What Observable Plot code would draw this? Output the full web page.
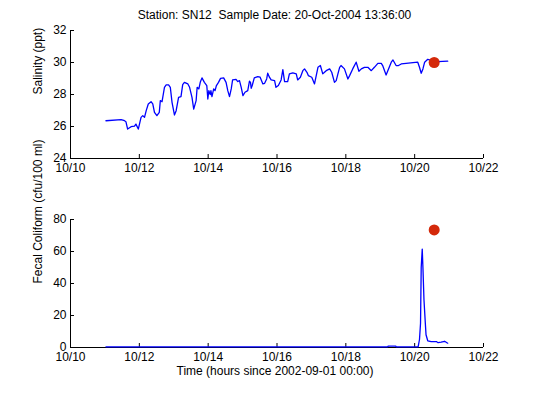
<!DOCTYPE html>
<html><head><meta charset="utf-8">
<script src="https://cdn.jsdelivr.net/npm/d3@7"></script>
<script src="https://cdn.jsdelivr.net/npm/@observablehq/plot@0.6"></script>
<style>
body{margin:0;background:#fff;}
#wrap{position:relative;width:533px;height:399px;font-family:"Liberation Sans",Arial,sans-serif;color:#000;}
#title{position:absolute;top:8px;left:0;width:549px;text-align:center;font-size:12px;white-space:pre;line-height:14px;}
.panel{position:absolute;left:0;}
</style></head><body>
<div id="wrap"><div id="title"></div><div id="top" class="panel" style="top:0px"></div><div id="bot" class="panel" style="top:185px"></div></div>
<script>
const titleText = "Station: SN12  Sample Date: 20-Oct-2004 13:36:00";
const xTicks = [10, 12, 14, 16, 18, 20, 22];
const xTickLabels = ["10/10", "10/12", "10/14", "10/16", "10/18", "10/20", "10/22"];
const salTicks = [24, 26, 28, 30, 32];
const fecTicks = [0, 20, 40, 60, 80];

const salDay = [
 11.03,11.47,11.57,11.61,11.66,11.76,11.86,11.90,11.97,12.05,
 12.10,12.15,12.20,12.26,12.34,12.39,12.44,12.51,12.58,12.61,
 12.66,12.73,12.78,12.85,12.90,12.95,13.02,13.07,13.14,13.21,
 13.26,13.31,13.41,13.46,13.53,13.58,13.65,13.68,13.73,13.77,
 13.82,13.89,13.96,13.99,14.02,14.06,14.08,14.11,14.16,14.20,
 14.24,14.30,14.36,14.45,14.52,14.57,14.62,14.67,14.71,14.81,
 14.86,14.91,14.96,15.01,15.07,15.15,15.20,15.23,15.25,15.28,
 15.34,15.44,15.51,15.59,15.64,15.70,15.73,15.78,15.83,15.93,
 15.97,16.04,16.12,16.17,16.22,16.31,16.36,16.46,16.56,16.60,
 16.68,16.75,16.80,16.87,16.91,17.01,17.09,17.14,17.19,17.26,
 17.33,17.38,17.43,17.53,17.59,17.67,17.72,17.77,17.82,17.86,
 17.96,18.06,18.11,18.20,18.30,18.38,18.45,18.54,18.64,18.74,
 18.83,18.93,19.03,19.07,19.17,19.22,19.32,19.37,19.46,19.53,
 19.61,19.75,19.95,20.09,20.14,20.19,20.24,20.29,20.38,20.53,
 20.67,20.96];
const salPpt = [
 26.36,26.43,26.36,26.30,25.84,25.99,26.03,26.15,25.84,26.57,
 26.68,26.57,26.99,27.41,27.55,27.41,26.89,26.68,26.89,27.62,
 27.55,28.45,28.60,28.60,28.45,27.51,26.72,26.99,27.82,27.87,
 28.62,28.76,28.66,28.45,27.82,27.09,27.62,28.45,28.35,28.76,
 29.04,28.76,28.56,27.72,28.24,27.99,28.24,27.87,28.35,28.24,
 28.56,28.76,29.01,29.04,28.76,28.24,27.87,28.35,28.91,28.95,
 28.81,28.87,28.45,27.93,28.14,28.24,28.83,28.76,28.39,28.56,
 29.04,29.12,29.08,28.66,28.70,28.97,29.33,29.08,28.91,28.87,
 28.45,28.56,28.91,29.56,28.81,28.81,29.29,29.35,29.29,28.91,
 29.08,29.49,29.60,29.39,29.18,29.08,28.66,29.18,29.70,29.81,
 29.29,29.39,29.49,29.60,29.39,28.76,28.87,29.29,29.70,29.81,
 29.60,28.97,29.18,29.60,30.02,29.45,29.60,29.70,29.70,29.49,
 29.70,29.95,29.95,29.81,29.22,29.49,30.02,30.16,29.81,29.81,
 29.91,29.95,29.99,30.02,29.70,29.33,29.60,30.02,30.20,30.12,
 30.06,30.08];

const fecDay = [11.03,19.22,19.23,19.45,19.46,20.10,20.14,20.17,20.19,20.22,20.24,20.27,20.31,20.33,20.38,20.48,20.63,20.68,20.77,20.87,20.96];
const fecVal = [0.4,0.4,0.9,0.9,0.4,0.4,5,15,50,61.5,50,30,15,8,4.2,3.7,3.7,3.0,3.3,3.9,2.7];

const sampleDay = [20.567];
const sampleSal = [30.0];
const sampleFec = [73.5];

const FONT = '"Liberation Sans", Arial, sans-serif';
const sal = salDay.map((d, i) => ({day: d, v: salPpt[i]}));
const fec = fecDay.map((d, i) => ({day: d, v: fecVal[i]}));
const fmtX = d => xTickLabels[xTicks.indexOf(d)];

function panel({height, marginTop, marginBottom, yDomain, yTicks, data, yLabel, sampleY, xLabel}) {
  const marks = [
    Plot.axisX({ticks: xTicks, tickFormat: fmtX, tickSize: -4, tickPadding: 9, label: null}),
    Plot.axisY({ticks: yTicks, tickSize: -4, tickPadding: 8, label: null}),
    Plot.ruleX([xTicks[0]], {stroke: "#000"}),
    Plot.ruleY([yDomain[0]], {stroke: "#000"}),
    Plot.line(data, {x: "day", y: "v", stroke: "#0000ff", strokeWidth: 1.3}),
    Plot.dot(sampleDay.map((d, i) => ({day: d, v: sampleY[i]})), {x: "day", y: "v", r: 5.5, fill: "#d4290a", stroke: "none"}),
    Plot.text([yLabel], {frameAnchor: "left", rotate: -90, dx: -32, fontSize: 12})
  ];
  if (xLabel) marks.push(Plot.text([xLabel], {frameAnchor: "bottom", dy: 27, dx: -2, fontSize: 12}));
  return Plot.plot({
    width: 533, height, marginTop, marginBottom, marginLeft: 70, marginRight: 50,
    style: {fontSize: "12px", fontFamily: FONT, color: "#000", background: "transparent", overflow: "visible"},
    x: {domain: [xTicks[0], xTicks[xTicks.length - 1]]},
    y: {domain: yDomain},
    marks
  });
}

document.getElementById("title").textContent = titleText;
document.getElementById("top").appendChild(panel({
  height: 185, marginTop: 30, marginBottom: 27, yDomain: [24, 32], yTicks: salTicks,
  data: sal, yLabel: "Salinity (ppt)", sampleY: sampleSal
}));
document.getElementById("bot").appendChild(panel({
  height: 214, marginTop: 34, marginBottom: 52, yDomain: [0, 80], yTicks: fecTicks,
  data: fec, yLabel: "Fecal Coliform (cfu/100 ml)", sampleY: sampleFec,
  xLabel: "Time (hours since 2002-09-01 00:00)"
}));
</script>
</body></html>
